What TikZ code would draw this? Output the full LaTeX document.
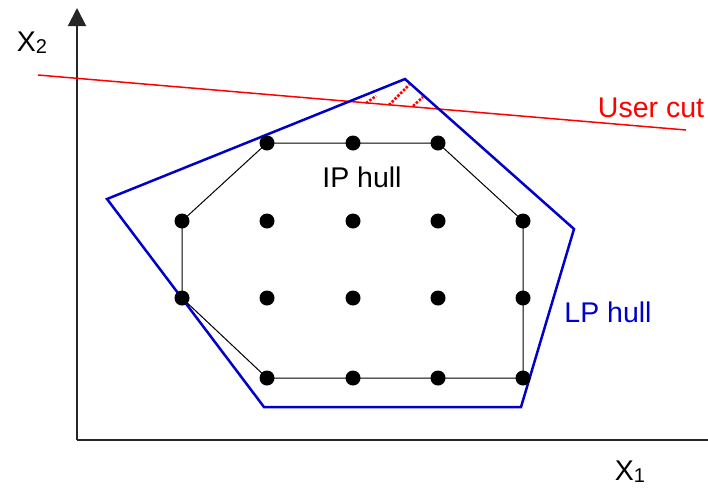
\documentclass[tikz,border=0pt]{standalone}
\usepackage{fontspec}
\setmainfont{Liberation Sans}
\usetikzlibrary{arrows.meta}
\begin{document}
\begin{tikzpicture}[x=1pt,y=-1pt,
  lbl/.style={font=\fontsize{28.5}{30}\selectfont, inner sep=0pt},
  dot/.style={circle, fill=black, minimum size=15pt, inner sep=0pt},
  axis/.style={draw=black!85, line width=2pt},
  lphull/.style={draw={rgb,255:red,0;green,0;blue,200}, line width=2.5pt, line join=miter},
  iphull/.style={draw=black, line width=1pt},
  cut/.style={draw=red, line width=1.5pt},
  hatch/.style={draw=red, line width=2.5pt, dash pattern=on 2.5pt off 1.5pt}
]
\useasboundingbox (0,0) rectangle (708,488);
% axes
\coordinate (O) at (77,440);
\coordinate (Ytop) at (77,8);
\coordinate (Xend) at (708,440);
\draw[axis, -{Triangle[length=18pt,width=18pt]}] (O) -- (Ytop);
\draw[axis] (O) -- (Xend);
\node[lbl] (x2) at (32,43) {X\raisebox{-2pt}{\fontsize{20}{22}\selectfont 2}};
\node[lbl] (x1) at (630,472) {X\raisebox{-2pt}{\fontsize{20}{22}\selectfont 1}};
% user cut
\coordinate (c1) at (38,75);
\coordinate (c2) at (686,130);
\draw[cut] (c1) -- (c2);
\node[lbl, text=red] (uc) at (651,108) {User cut};
% hatch
\coordinate (h1a) at (366,103); \coordinate (h1b) at (376,96);
\coordinate (h2a) at (389,105); \coordinate (h2b) at (409,85);
\coordinate (h3a) at (413,106); \coordinate (h3b) at (423,97);
\draw[hatch] (h1a) -- (h1b);
\draw[hatch] (h2a) -- (h2b);
\draw[hatch] (h3a) -- (h3b);
% LP hull
\coordinate (L1) at (107,199);
\coordinate (L2) at (405,79);
\coordinate (L3) at (574,229);
\coordinate (L4) at (521,407);
\coordinate (L5) at (264,407);
\draw[lphull] (L1) -- (L2) -- (L3) -- (L4) -- (L5) -- cycle;
\node[lbl, text={rgb,255:red,0;green,0;blue,200}] (lp) at (608,312) {LP hull};
% IP hull
\coordinate (I1) at (267,143);
\coordinate (I2) at (438,143);
\coordinate (I3) at (523,221);
\coordinate (I4) at (523,378);
\coordinate (I5) at (267,378);
\coordinate (I6) at (182,298);
\coordinate (I7) at (182,221);
\draw[iphull] (I1) -- (I2) -- (I3) -- (I4) -- (I5) -- (I6) -- (I7) -- cycle;
\node[lbl] (ip) at (362,177) {IP hull};
% dots
\foreach \x in {267,353,438} \node[dot] (a\x) at (\x,143) {};
\foreach \x in {182,267,353,438,523} \node[dot] (b\x) at (\x,221) {};
\foreach \x in {182,267,353,438,523} \node[dot] (c\x) at (\x,298) {};
\foreach \x in {267,353,438,523} \node[dot] (d\x) at (\x,378) {};
\end{tikzpicture}
\end{document}
